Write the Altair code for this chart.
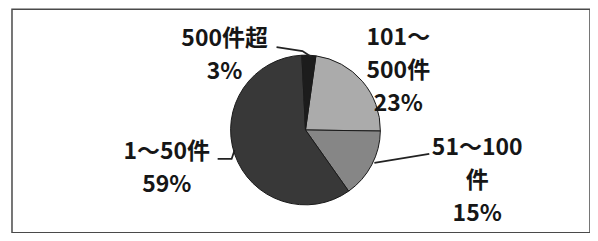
import math
import altair as alt
import pandas as pd

# ---- data ----
categories = ["101～500件", "51～100件", "1～50件", "500件超"]
percents = [23, 15, 59, 3]
slice_colors = ["#ababab", "#868686", "#383838", "#1c1c1c"]

# label lines (text) per category
label_lines = [
    ["101～", "500件", "23%"],
    ["51～100", "件", "15%"],
    ["1～50件", "59%"],
    ["500件超", "3%"],
]

# ---- layout (page pixel coordinates) ----
OX, OY = 12, 9           # top-left of the framed chart on the page
W, H = 579, 224
CX, CY, R = 306, 130, 75
START = math.radians(8)
label_anchor = [(399, 38), (478, 148), (167, 152), (225, 39)]
LINE_GAP = 33
leaders = [
    [],
    [(430, 154), (375, 163)],
    [(218, 159), (232, 159), (235, 150)],
    [(277, 47), (303, 51), (312, 57)],
]

pie_df = pd.DataFrame({"cat": categories, "pct": percents, "ord": list(range(len(categories)))})

rows = []
for cat, lines, (ax, ay) in zip(categories, label_lines, label_anchor):
    for i, t in enumerate(lines):
        rows.append({"cat": cat, "text": t, "x": ax, "y": ay + i * LINE_GAP})
text_df = pd.DataFrame(rows)

lrows = []
for cat, pts in zip(categories, leaders):
    for i, (px, py) in enumerate(pts):
        lrows.append({"cat": cat, "i": i, "x": px, "y": py})
lead_df = pd.DataFrame(lrows)

xs = alt.Scale(domain=[OX, OX + W], range=[0, W])
ys = alt.Scale(domain=[OY, OY + H], range=[0, H])

pie = alt.Chart(pie_df).mark_arc(outerRadius=R, stroke="#1a1a1a", strokeWidth=1).encode(
    theta=alt.Theta("pct:Q", stack=True, scale=alt.Scale(range=[START, START + 2 * math.pi])),
    order=alt.Order("ord:Q"),
    color=alt.Color("cat:N", scale=alt.Scale(domain=categories, range=slice_colors), legend=None),
    x=alt.value(CX - OX),
    y=alt.value(CY - OY),
)

lead = alt.Chart(lead_df).mark_line(color="#222222", strokeWidth=1.8).encode(
    x=alt.X("x:Q", scale=xs, axis=None),
    y=alt.Y("y:Q", scale=ys, axis=None),
    detail="cat:N",
    order="i:Q",
)

txt = alt.Chart(text_df).mark_text(
    font="Noto Sans CJK JP", fontSize=23, fontWeight="bold", color="#161616",
    align="center", baseline="middle"
).encode(
    x=alt.X("x:Q", scale=xs, axis=None),
    y=alt.Y("y:Q", scale=ys, axis=None),
    text="text:N",
)

chart = alt.layer(pie, lead, txt).properties(
    width=W, height=H,
    autosize=alt.AutoSizeParams(type="none"),
    padding={"left": OX - 8, "top": OY - 8, "right": 0, "bottom": 0},
).configure_view(stroke="#4a4a4a", strokeWidth=1.5)

chart.save("out.html", embed_options={"renderer": "svg", "actions": False})
